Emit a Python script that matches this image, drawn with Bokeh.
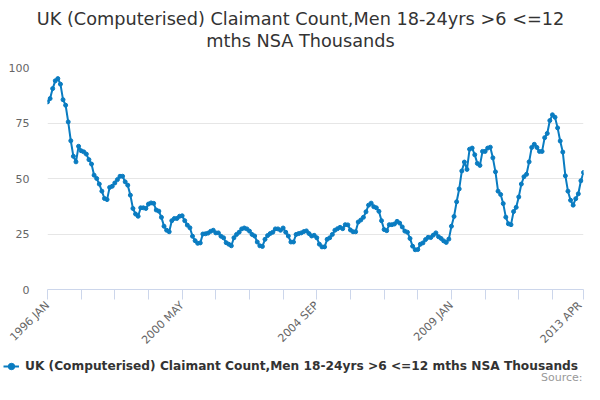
from bokeh.plotting import figure
from bokeh.layouts import column
from bokeh.models import ColumnDataSource, FixedTicker, Legend, LegendItem, Range1d, Label
from bokeh.embed import file_html
from bokeh.resources import INLINE

# monthly values, 1996 JAN .. 2013 APR (thousands)
claimants = [
    84.5, 86, 90.5, 94, 95, 92.5, 85.5, 83, 75.5, 67,
    60, 57.5, 64.5, 62.5, 62, 61, 58.5, 56.5, 51.5, 50,
    47.5, 44.3, 41, 40.5, 46, 46.5, 48, 49.5, 51, 51,
    48.5, 47, 42.5, 36.5, 34,
    33, 36.8, 36.8, 36.5, 38.5, 39, 38.8, 35.8, 35.3, 32.5,
    28.5, 26.7, 26, 31, 32, 32, 33, 33.2, 31, 29,
    27.8, 24, 22, 20.8, 21, 25, 25.1, 25.4, 26.2, 26.7,
    25.5, 25.5, 24, 23.3,
    21.1, 20.4, 19.7, 23.3, 24.8, 25.8, 27.3, 27.7, 27.3, 26.3,
    24.8, 24.1, 21.4, 19.7, 19.4, 22.6, 24.3, 25.2, 25.8, 27.3,
    27.3, 26.7, 27.7, 25.8, 24.1, 21.4, 21.4, 24.8, 25.2, 25.5,
    26.1, 26.4, 25.2, 24.1, 24.4, 23.3,
    20.4, 19.2, 19.2, 22.6, 23.3, 24.8, 26.7, 27.4, 28, 27.4,
    29.2, 29.1, 26.8, 26, 26, 30.4, 31.3, 32.5, 35, 38,
    38.9, 37.3, 36.8, 35.2, 31, 27, 26.5, 29.2, 29.2, 29.5,
    30.7, 29.9, 28.2,
    26.3, 25.8, 23, 19.5, 17.9, 18, 20.4, 21, 22.5, 23.5,
    23.4, 24.5, 25.5, 23.8, 23, 21.9, 21.2, 22.7,
    28.5, 32.9, 39.5, 45.3, 53.4, 57.4, 54.1, 63.2, 63.7, 60.7,
    56.8, 55.9, 62.2, 62.2, 63.7, 64.1, 59.3, 53,
    44.3, 42.8, 38.7, 32.6, 29.6, 29.2, 35.1, 37, 41.7, 47.5,
    50.8, 51.9, 57.5, 64, 65.4, 64, 62.2, 62.2, 68.4, 70.3,
    76.1, 78.7, 77.6, 72.8, 66.9, 61.9, 51.2, 44.3, 40.2, 38,
    40.9, 43.1, 49, 52.7,
]
label_months = [0, 52, 104, 156, 207]
label_text = ["1996 JAN", "2000 MAY", "2004 SEP", "2009 JAN", "2013 APR"]
tick_months = list(range(0, 196, 13)) + [207]
y_ticks = [0, 25, 50, 75, 100]

series_name = "UK (Computerised) Claimant Count,Men 18-24yrs >6 <=12 mths NSA Thousands"
title_lines = ["UK (Computerised) Claimant Count,Men 18-24yrs >6 <=12", "mths NSA Thousands"]

FONT = "DejaVu Sans"
BLUE = "#0a7cc1"
W = 584


def strip(height):
    # blank figure whose frame is the whole canvas, used for title / legend rows
    f = figure(width=W, height=height, output_backend="svg", toolbar_location=None,
               x_range=Range1d(0, 1), y_range=Range1d(0, 1),
               x_axis_type=None, y_axis_type=None, min_border=0)
    f.outline_line_color = None
    f.xgrid.grid_line_color = None
    f.ygrid.grid_line_color = None
    return f


def no_align(f):
    if "frame_align" in f.properties():
        f.frame_align = False


# title
head = strip(60)
for txt, yy in zip(title_lines, [42, 20]):
    head.add_layout(Label(x=300, y=yy, x_units="screen", y_units="screen", text=txt,
                          text_font=FONT, text_font_size="17.7px", text_color="#333333",
                          text_align="center", text_baseline="middle"))

# main chart
src = ColumnDataSource(data=dict(month=list(range(len(claimants))), value=claimants))

p = figure(width=W, height=294, output_backend="svg", toolbar_location=None,
           x_range=Range1d(0, len(claimants) - 1), y_range=Range1d(0, 100),
           min_border_left=47, min_border_right=1, min_border_top=7, min_border_bottom=61)
p.outline_line_color = None

p.line("month", "value", source=src, line_color=BLUE, line_width=2)
p.scatter("month", "value", source=src, size=4, color=BLUE)

xa = p.xaxis[0]
xa.ticker = FixedTicker(ticks=tick_months, minor_ticks=[])
xa.major_label_overrides = {m: "" for m in tick_months}
xa.major_label_overrides.update(dict(zip(label_months, label_text)))
xa.major_label_orientation = 0.785
xa.axis_line_color = "#ccd6eb"
xa.major_tick_line_color = "#ccd6eb"
xa.major_tick_out = 10
xa.major_tick_in = 0
xa.minor_tick_line_color = None
xa.major_label_text_font = FONT
xa.major_label_text_font_size = "11px"
xa.major_label_text_color = "#666666"
xa.major_label_standoff = 4

ya = p.yaxis[0]
ya.ticker = FixedTicker(ticks=y_ticks)
ya.axis_line_color = None
ya.major_tick_line_color = None
ya.major_tick_out = 0
ya.minor_tick_line_color = None
ya.major_label_text_font = FONT
ya.major_label_text_font_size = "11px"
ya.major_label_text_color = "#666666"
ya.major_label_standoff = 18

p.xgrid.grid_line_color = None
p.ygrid.grid_line_color = "#e6e6e6"

# legend + source row
lg = strip(30)
off = ColumnDataSource(data=dict(x=[-10], y=[-10]))
key_line = lg.line("x", "y", source=off, line_color=BLUE, line_width=2)
key_dot = lg.scatter("x", "y", source=off, size=4, color=BLUE)
legend = Legend(items=[LegendItem(label=series_name, renderers=[key_line, key_dot])],
                location=(3, 8), orientation="horizontal",
                label_text_font=FONT, label_text_font_size="12.2px",
                label_text_font_style="bold", label_text_color="#333333",
                border_line_color=None, background_fill_alpha=0,
                glyph_width=16, padding=0, margin=0, label_standoff=6)
lg.add_layout(legend, "center")
lg.add_layout(Label(x=582, y=1, x_units="screen", y_units="screen", text="Source:",
                    text_font=FONT, text_font_size="11px", text_color="#999999",
                    text_align="right", text_baseline="bottom"))

for f in (head, p, lg):
    no_align(f)

open("out.html", "w").write(file_html(column(head, p, lg, spacing=0), INLINE))
